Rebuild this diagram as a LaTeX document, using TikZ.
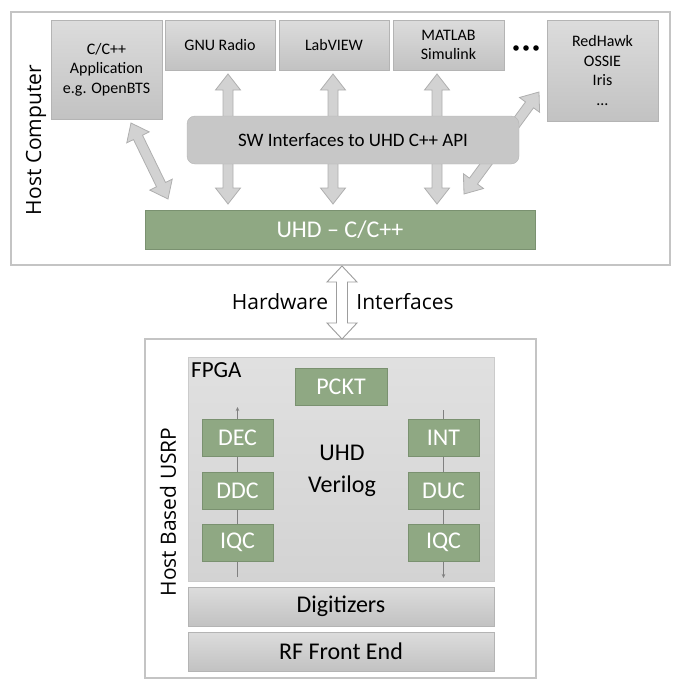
\documentclass[tikz,border=0pt]{standalone}
\usepackage{fontspec}
\setmainfont{Carlito}
\newfontfamily\segoe{Open Sans}
\usepackage{tikz}
\usetikzlibrary{arrows.meta}
\usetikzlibrary{calc}
\usetikzlibrary{positioning}
\definecolor{BoxTop}{HTML}{DCDCDC}
\definecolor{BoxBot}{HTML}{C2C2C2}
\definecolor{BoxLine}{HTML}{B4B4B4}
\definecolor{FrameLine}{HTML}{C4C4C4}
\definecolor{UHDGreen}{HTML}{8FA883}
\definecolor{GreenLine}{HTML}{7A9170}
\definecolor{ArrowFill}{HTML}{D2D2D2}
\definecolor{ArrowLine}{HTML}{AFAFAF}
\definecolor{FPGAFill}{HTML}{D3D3D3}

\tikzset{
  frame/.style={draw=FrameLine, line width=1.4pt, inner sep=0pt},
  appbox/.style={draw=BoxLine, top color=BoxTop, bottom color=BoxBot, inner sep=0pt,
    align=center, font=\fontsize{16}{19.5}\selectfont},
  layerbox/.style={appbox, minimum width=306pt, minimum height=39pt,
    font=\fontsize{24}{28}\selectfont},
  greenbox/.style={draw=GreenLine, fill=UHDGreen, text=white, inner sep=0pt,
    minimum width=71pt, minimum height=37pt, font=\fontsize{24}{28}\selectfont},
  blockarrow/.style={draw=ArrowLine, fill=ArrowFill, line width=0.8pt},
  hwarrow/.style={draw=ArrowLine!90!black, fill=white, line width=0.9pt},
  sigline/.style={draw=gray, line width=0.7pt, -{Stealth[length=4pt,width=3.5pt]}},
  sidelabel/.style={font=\segoe\fontsize{21}{25}\selectfont},
}

% block arrow between two points: [style]{from}{to}{head length}{head half width}{shaft half width}
\newcommand\blockarrow[6][blockarrow]{%
  \draw[#1] (#2)
    -- ($(#2)!#4!(#3)!#5!90:(#3)$) -- ($(#2)!#4!(#3)!#6!90:(#3)$)
    -- ($(#3)!#4!(#2)!#6!-90:(#2)$) -- ($(#3)!#4!(#2)!#5!-90:(#2)$)
    -- (#3)
    -- ($(#3)!#4!(#2)!#5!90:(#2)$) -- ($(#3)!#4!(#2)!#6!90:(#2)$)
    -- ($(#2)!#4!(#3)!#6!-90:(#3)$) -- ($(#2)!#4!(#3)!#5!-90:(#3)$)
    -- cycle;}

\begin{document}
\begin{tikzpicture}[x=1pt, y=-1pt]

\useasboundingbox (0,0) rectangle (684,688);

% Host computer
\node[frame, minimum width=659pt, minimum height=253pt] (host) at (340.5,138.5) {};
\node[sidelabel, rotate=90] (hostlbl) at (36,140) {Host Computer};

\node[appbox, minimum width=111pt, minimum height=99pt] (cpp) at (106.5,69.5)
  {C/C++\\Application\\e.g. OpenBTS};
\node[appbox, minimum width=110pt, minimum height=50pt] (gnu) at (220,45) {GNU Radio};
\node[appbox, minimum width=110pt, minimum height=50pt] (labview) at (334,45) {LabVIEW};
\node[appbox, minimum width=111pt, minimum height=50pt] (matlab) at (448.5,45) {MATLAB\\Simulink};
\node[appbox, minimum width=111pt, minimum height=101pt] (redhawk) at (602.5,70.5)
  {RedHawk\\OSSIE\\Iris\\\ldots};

% dots
\foreach \dx in {516,526,536}
  \fill (\dx,48) circle (2.8pt);

\node[draw=GreenLine, fill=UHDGreen, text=white, inner sep=0pt, minimum width=390pt,
  minimum height=39pt, font=\fontsize{24}{28}\selectfont] (uhd) at (340,229.5) {UHD -- C/C++};

% arrows behind the API box
\coordinate (gnuA) at (228,74);   \coordinate (gnuB) at (228,204);
\coordinate (labA) at (333,74);   \coordinate (labB) at (333,204);
\coordinate (matA) at (437,74);   \coordinate (matB) at (437,204);
\coordinate (cppA) at (131,123);  \coordinate (cppB) at (168,199);
\coordinate (redA) at (539,92);   \coordinate (redB) at (464,194);
\blockarrow{gnuA}{gnuB}{16pt}{12.5pt}{5pt}
\blockarrow{labA}{labB}{16pt}{12.5pt}{5pt}
\blockarrow{matA}{matB}{16pt}{12.5pt}{5pt}
\blockarrow{cppA}{cppB}{16pt}{12.5pt}{5pt}
\blockarrow{redA}{redB}{16pt}{12.5pt}{5pt}

\node[draw=BoxLine, fill=BoxBot!92!white, rounded corners=8pt, inner sep=0pt,
  minimum width=332pt, minimum height=48pt, font=\fontsize{19}{22}\selectfont]
  (swapi) at (353,140) {SW Interfaces to UHD C++ API};

% Hardware interfaces
\node[frame, minimum width=391pt, minimum height=339pt] (usrp) at (340.5,508.5) {};
\coordinate (hwA) at (342,266);
\coordinate (hwB) at (342,339);
\blockarrow[hwarrow]{hwA}{hwB}{16pt}{15pt}{5.5pt}
\node[sidelabel] (hwleft) at (280,302) {Hardware};
\node[sidelabel] (hwright) at (405,302) {Interfaces};

\node[sidelabel, rotate=90] (usrplbl) at (168,512) {Host Based USRP};

% FPGA
\node[draw=BoxLine!70!white, top color=FPGAFill!70!white, bottom color=FPGAFill,
  inner sep=0pt, minimum width=306pt, minimum height=224pt] (fpga) at (341,469) {};
\node[anchor=north west, inner sep=0pt, font=\fontsize{23}{27}\selectfont]
  (fpgalbl) at (191,362) {FPGA};

\coordinate (rxin) at (237.5,577);  \coordinate (rxout) at (237.5,407);
\coordinate (txin) at (443.5,410);  \coordinate (txout) at (443.5,578);
\draw[sigline] (rxin) -- (rxout);
\draw[sigline] (txin) -- (txout);

\node[greenbox, minimum width=92pt] (pckt) at (341,386.5) {PCKT};
\node[greenbox] (dec)  at (237.5,437.5) {DEC};
\node[greenbox] (ddc)  at (237.5,490.5) {DDC};
\node[greenbox] (iqcl) at (237.5,542.5) {IQC};
\node[greenbox] (int)  at (443.5,437.5) {INT};
\node[greenbox] (duc)  at (443.5,490.5) {DUC};
\node[greenbox] (iqcr) at (443.5,542.5) {IQC};

\node[align=center, font=\fontsize{24}{32}\selectfont] (verilog) at (342,471) {UHD\\Verilog};

\node[layerbox] (digit) at (341,606.5) {Digitizers};
\node[layerbox] (rffe)  at (341,651.5) {RF Front End};

\end{tikzpicture}
\end{document}
